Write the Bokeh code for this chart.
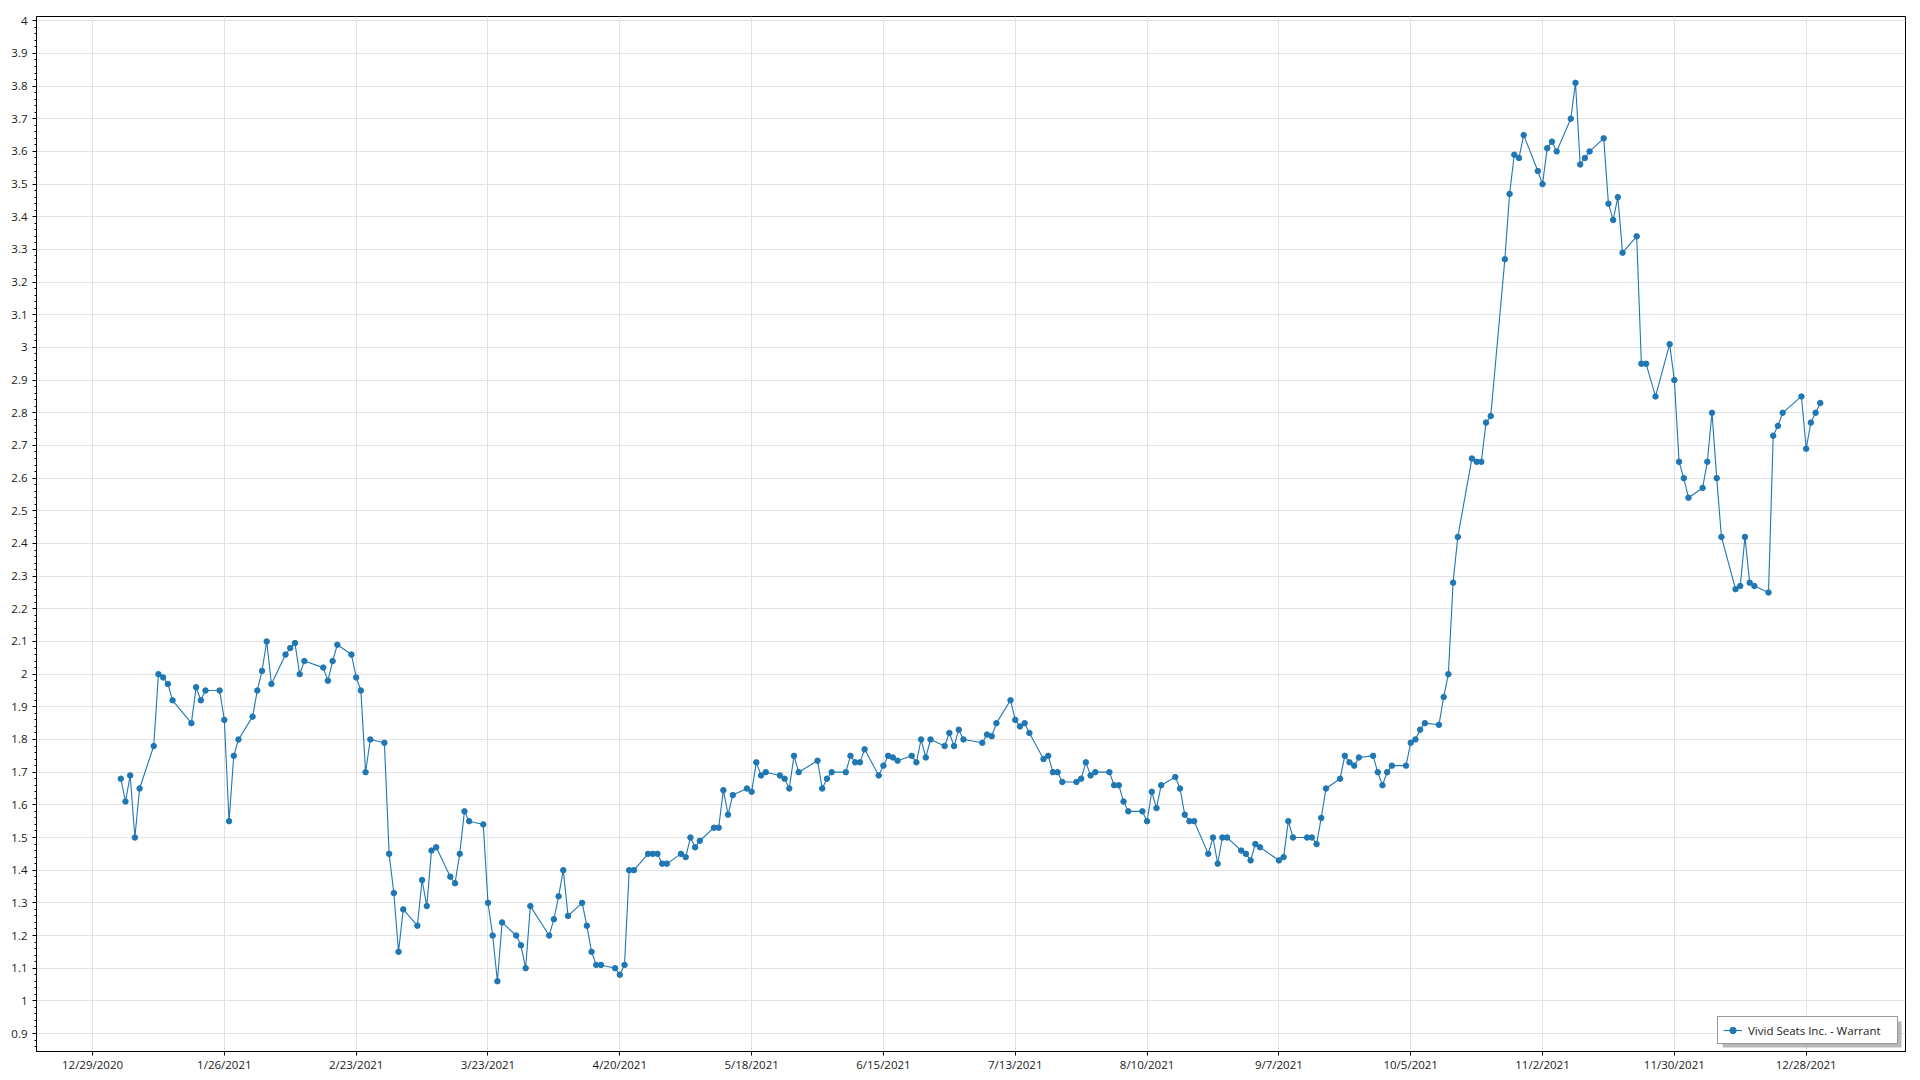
import pandas as pd
from bokeh.plotting import figure
from bokeh.models import Range1d, FixedTicker, CustomJSTickFormatter, ColumnDataSource, BoxAnnotation
from bokeh.embed import file_html
from bokeh.resources import INLINE

series_name = "Vivid Seats Inc. - Warrant"

dates = [
    "2021-01-04", "2021-01-05", "2021-01-06", "2021-01-07", "2021-01-08",
    "2021-01-11", "2021-01-12", "2021-01-13", "2021-01-14", "2021-01-15",
    "2021-01-19", "2021-01-20", "2021-01-21", "2021-01-22",
    "2021-01-25", "2021-01-26", "2021-01-27", "2021-01-28", "2021-01-29",
    "2021-02-01", "2021-02-02", "2021-02-03", "2021-02-04", "2021-02-05",
    "2021-02-08", "2021-02-09", "2021-02-10", "2021-02-11", "2021-02-12",
    "2021-02-16", "2021-02-17", "2021-02-18", "2021-02-19",
    "2021-02-22", "2021-02-23", "2021-02-24", "2021-02-25", "2021-02-26",
    "2021-03-01", "2021-03-02", "2021-03-03", "2021-03-04", "2021-03-05",
    "2021-03-08", "2021-03-09", "2021-03-10", "2021-03-11", "2021-03-12",
    "2021-03-15", "2021-03-16", "2021-03-17", "2021-03-18", "2021-03-19",
    "2021-03-22", "2021-03-23", "2021-03-24", "2021-03-25", "2021-03-26",
    "2021-03-29", "2021-03-30", "2021-03-31", "2021-04-01",
    "2021-04-05", "2021-04-06", "2021-04-07", "2021-04-08", "2021-04-09",
    "2021-04-12", "2021-04-13", "2021-04-14", "2021-04-15", "2021-04-16",
    "2021-04-19", "2021-04-20", "2021-04-21", "2021-04-22", "2021-04-23",
    "2021-04-26", "2021-04-27", "2021-04-28", "2021-04-29", "2021-04-30",
    "2021-05-03", "2021-05-04", "2021-05-05", "2021-05-06", "2021-05-07",
    "2021-05-10", "2021-05-11", "2021-05-12", "2021-05-13", "2021-05-14",
    "2021-05-17", "2021-05-18", "2021-05-19", "2021-05-20", "2021-05-21",
    "2021-05-24", "2021-05-25", "2021-05-26", "2021-05-27", "2021-05-28",
    "2021-06-01", "2021-06-02", "2021-06-03", "2021-06-04",
    "2021-06-07", "2021-06-08", "2021-06-09", "2021-06-10", "2021-06-11",
    "2021-06-14", "2021-06-15", "2021-06-16", "2021-06-17", "2021-06-18",
    "2021-06-21", "2021-06-22", "2021-06-23", "2021-06-24", "2021-06-25",
    "2021-06-28", "2021-06-29", "2021-06-30", "2021-07-01", "2021-07-02",
    "2021-07-06", "2021-07-07", "2021-07-08", "2021-07-09",
    "2021-07-12", "2021-07-13", "2021-07-14", "2021-07-15", "2021-07-16",
    "2021-07-19", "2021-07-20", "2021-07-21", "2021-07-22", "2021-07-23",
    "2021-07-26", "2021-07-27", "2021-07-28", "2021-07-29", "2021-07-30",
    "2021-08-02", "2021-08-03", "2021-08-04", "2021-08-05", "2021-08-06",
    "2021-08-09", "2021-08-10", "2021-08-11", "2021-08-12", "2021-08-13",
    "2021-08-16", "2021-08-17", "2021-08-18", "2021-08-19", "2021-08-20",
    "2021-08-23", "2021-08-24", "2021-08-25", "2021-08-26", "2021-08-27",
    "2021-08-30", "2021-08-31", "2021-09-01", "2021-09-02", "2021-09-03",
    "2021-09-07", "2021-09-08", "2021-09-09", "2021-09-10",
    "2021-09-13", "2021-09-14", "2021-09-15", "2021-09-16", "2021-09-17",
    "2021-09-20", "2021-09-21", "2021-09-22", "2021-09-23", "2021-09-24",
    "2021-09-27", "2021-09-28", "2021-09-29", "2021-09-30", "2021-10-01",
    "2021-10-04", "2021-10-05", "2021-10-06", "2021-10-07", "2021-10-08",
    "2021-10-11", "2021-10-12", "2021-10-13", "2021-10-14", "2021-10-15",
    "2021-10-18", "2021-10-19", "2021-10-20", "2021-10-21", "2021-10-22",
    "2021-10-25", "2021-10-26", "2021-10-27", "2021-10-28", "2021-10-29",
    "2021-11-01", "2021-11-02", "2021-11-03", "2021-11-04", "2021-11-05",
    "2021-11-08", "2021-11-09", "2021-11-10", "2021-11-11", "2021-11-12",
    "2021-11-15", "2021-11-16", "2021-11-17", "2021-11-18", "2021-11-19",
    "2021-11-22", "2021-11-23", "2021-11-24", "2021-11-26",
    "2021-11-29", "2021-11-30", "2021-12-01", "2021-12-02", "2021-12-03",
    "2021-12-06", "2021-12-07", "2021-12-08", "2021-12-09", "2021-12-10",
    "2021-12-13", "2021-12-14", "2021-12-15", "2021-12-16", "2021-12-17",
    "2021-12-20", "2021-12-21", "2021-12-22", "2021-12-23",
    "2021-12-27", "2021-12-28", "2021-12-29", "2021-12-30", "2021-12-31",
]

prices = [
    1.68, 1.61, 1.69, 1.50, 1.65,
    1.78, 2.00, 1.99, 1.97, 1.92,
    1.85, 1.96, 1.92, 1.95,
    1.95, 1.86, 1.55, 1.75, 1.80,
    1.87, 1.95, 2.01, 2.10, 1.97,
    2.06, 2.08, 2.095, 2.00, 2.04,
    2.02, 1.98, 2.04, 2.09,
    2.06, 1.99, 1.95, 1.70, 1.80,
    1.79, 1.45, 1.33, 1.15, 1.28,
    1.23, 1.37, 1.29, 1.46, 1.47,
    1.38, 1.36, 1.45, 1.58, 1.55,
    1.54, 1.30, 1.20, 1.06, 1.24,
    1.20, 1.17, 1.10, 1.29,
    1.20, 1.25, 1.32, 1.40, 1.26,
    1.30, 1.23, 1.15, 1.11, 1.11,
    1.10, 1.08, 1.11, 1.40, 1.40,
    1.45, 1.45, 1.45, 1.42, 1.42,
    1.45, 1.44, 1.50, 1.47, 1.49,
    1.53, 1.53, 1.645, 1.57, 1.63,
    1.65, 1.64, 1.73, 1.69, 1.70,
    1.69, 1.68, 1.65, 1.75, 1.70,
    1.735, 1.65, 1.68, 1.70,
    1.70, 1.75, 1.73, 1.73, 1.77,
    1.69, 1.72, 1.75, 1.745, 1.735,
    1.75, 1.73, 1.80, 1.745, 1.80,
    1.78, 1.82, 1.78, 1.83, 1.80,
    1.79, 1.815, 1.81, 1.85,
    1.92, 1.86, 1.84, 1.85, 1.82,
    1.74, 1.75, 1.70, 1.70, 1.67,
    1.67, 1.68, 1.73, 1.69, 1.70,
    1.70, 1.66, 1.66, 1.61, 1.58,
    1.58, 1.55, 1.64, 1.59, 1.66,
    1.685, 1.65, 1.57, 1.55, 1.55,
    1.45, 1.50, 1.42, 1.50, 1.50,
    1.46, 1.45, 1.43, 1.48, 1.47,
    1.43, 1.44, 1.55, 1.50,
    1.50, 1.50, 1.48, 1.56, 1.65,
    1.68, 1.75, 1.73, 1.72, 1.745,
    1.75, 1.70, 1.66, 1.70, 1.72,
    1.72, 1.79, 1.80, 1.83, 1.85,
    1.845, 1.93, 2.00, 2.28, 2.42,
    2.66, 2.65, 2.65, 2.77, 2.79,
    3.27, 3.47, 3.59, 3.58, 3.65,
    3.54, 3.50, 3.61, 3.63, 3.60,
    3.70, 3.81, 3.56, 3.58, 3.60,
    3.64, 3.44, 3.39, 3.46, 3.29,
    3.34, 2.95, 2.95, 2.85,
    3.01, 2.90, 2.65, 2.60, 2.54,
    2.57, 2.65, 2.80, 2.60, 2.42,
    2.26, 2.27, 2.42, 2.28, 2.27,
    2.25, 2.73, 2.76, 2.80,
    2.85, 2.69, 2.77, 2.80, 2.83,
]

x_tick_dates = [
    "2020-12-29", "2021-01-26", "2021-02-23", "2021-03-23", "2021-04-20",
    "2021-05-18", "2021-06-15", "2021-07-13", "2021-08-10", "2021-09-07",
    "2021-10-05", "2021-11-02", "2021-11-30", "2021-12-28",
]

y_ticks = [0.9, 1.0, 1.1, 1.2, 1.3, 1.4, 1.5, 1.6, 1.7, 1.8, 1.9, 2.0,
           2.1, 2.2, 2.3, 2.4, 2.5, 2.6, 2.7, 2.8, 2.9, 3.0, 3.1, 3.2,
           3.3, 3.4, 3.5, 3.6, 3.7, 3.8, 3.9, 4.0]


def ms(s):
    return pd.Timestamp(s).value / 1e6


DAY = 86400000.0
x_start = ms(dates[0]) - 17.9 * DAY
x_end = ms(dates[-1]) + 18.1 * DAY

src = ColumnDataSource(dict(x=pd.to_datetime(dates), y=prices))

FONT = "Open Sans"
FS = "11.5px"
TXT = "#1a1a1a"
BLUE = "#1f77b4"

W, H = 1920, 1080
BL, BR, BT, BB = 36, 15, 16, 29

p = figure(width=W, height=H, x_axis_type="datetime",
           output_backend="svg", toolbar_location=None,
           x_range=Range1d(x_start, x_end), y_range=Range1d(0.845, 4.013),
           min_border_left=BL, min_border_right=BR, min_border_top=BT,
           min_border_bottom=BB)

p.background_fill_color = "white"
p.border_fill_color = "white"
p.outline_line_color = "black"
p.outline_line_width = 1
p.outline_line_alpha = 1

# legend drop shadow (canvas pixels)
LG_MARGIN, LG_W, LG_H = 7, 179, 26
lg_right = W - BR - LG_MARGIN
lg_bottom = H - BB - LG_MARGIN
shadow = BoxAnnotation(left=lg_right - LG_W + 3, right=lg_right + 3,
                       top=lg_bottom - LG_H + 3, bottom=lg_bottom + 3,
                       left_units="canvas", right_units="canvas",
                       top_units="canvas", bottom_units="canvas",
                       fill_color="#9a9a9a", fill_alpha=0.7, line_alpha=0,
                       level="underlay")
p.add_layout(shadow)

p.line("x", "y", source=src, color=BLUE, line_width=1.1, legend_label=series_name)
p.scatter("x", "y", source=src, size=5.5, fill_color=BLUE, line_color=BLUE,
          legend_label=series_name)

# axes
xa = p.xaxis[0]
xa.ticker = FixedTicker(ticks=[ms(d) for d in x_tick_dates])
xa.formatter = CustomJSTickFormatter(code="""
const d = new Date(tick);
return (d.getUTCMonth()+1) + "/" + d.getUTCDate() + "/" + d.getUTCFullYear();
""")
ya = p.yaxis[0]
minor = [round(0.86 + 0.02 * i, 2) for i in range(158)]
ya.ticker = FixedTicker(ticks=y_ticks, minor_ticks=minor)
ya.formatter = CustomJSTickFormatter(code="return String(Math.round(tick*10)/10);")

for ax in (xa, ya):
    ax.axis_line_color = "black"
    ax.axis_line_width = 1
    ax.major_tick_line_color = "black"
    ax.minor_tick_line_color = "black"
    ax.major_tick_out = 4
    ax.major_tick_in = 0
    ax.minor_tick_in = 0
    ax.major_label_text_font = FONT
    ax.major_label_text_font_size = FS
    ax.major_label_text_color = TXT
xa.minor_tick_out = 0
ya.minor_tick_out = 2
xa.major_label_standoff = 1
ya.major_label_standoff = 5

p.xgrid.grid_line_color = "#e3e3e3"
p.ygrid.grid_line_color = "#e3e3e3"
p.xgrid.grid_line_width = 1
p.ygrid.grid_line_width = 1

lg = p.legend[0]
lg.location = "bottom_right"
lg.margin = LG_MARGIN
lg.padding = 5
lg.glyph_width = 19
lg.glyph_height = 16
lg.label_height = 16
lg.label_width = LG_W - 5 - 19 - 6 - 5
lg.label_standoff = 6
lg.label_text_font = FONT
lg.label_text_font_size = FS
lg.label_text_color = TXT
lg.border_line_color = "#333333"
lg.border_line_width = 1
lg.background_fill_color = "white"
lg.background_fill_alpha = 1

open("out.html", "w").write(file_html(p, INLINE))
